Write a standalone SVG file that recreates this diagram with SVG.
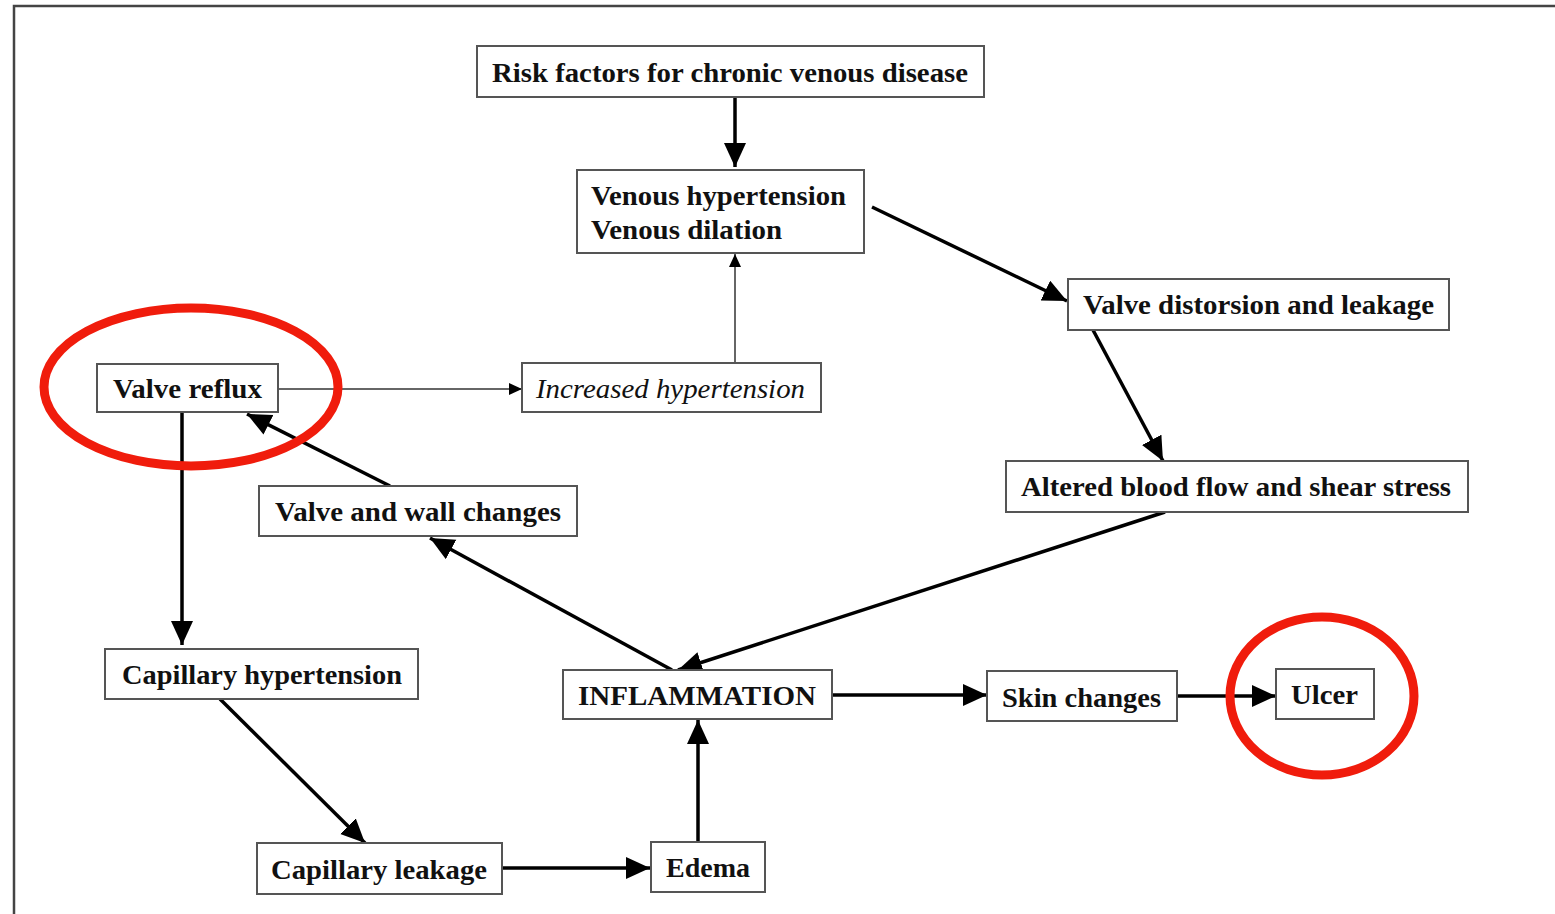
<svg xmlns="http://www.w3.org/2000/svg" width="1555" height="914" viewBox="0 0 1555 914">
<style>
.box{fill:#fff;stroke:#555;stroke-width:2}
.t{font-family:"Liberation Serif","Times New Roman",serif;font-weight:bold;font-size:28px;fill:#111}
.ti{font-family:"Liberation Serif","Times New Roman",serif;font-style:italic;font-size:28px;fill:#111}
.c{stroke:#000;stroke-width:3.5;fill:none}
.cn{stroke:#333;stroke-width:1.5;fill:none}
.ring{fill:none;stroke:#f01c0c;stroke-width:9}
</style>
<defs>
<marker id="ah" markerUnits="userSpaceOnUse" markerWidth="26" markerHeight="24" refX="24" refY="11" orient="auto">
<path d="M0,0 L24,11 L0,22 Z" fill="#000"/>
</marker>
<marker id="as" markerUnits="userSpaceOnUse" markerWidth="14" markerHeight="14" refX="13" refY="6" orient="auto">
<path d="M0,0 L13,6 L0,12 Z" fill="#000"/>
</marker>
</defs>
<rect width="1555" height="914" fill="#fff"/>
<path d="M14,914 L14,6 L1555,6" fill="none" stroke="#444" stroke-width="2.5"/>
<g id="connectors">
<line class="c" x1="735" y1="97" x2="735" y2="167" marker-end="url(#ah)"/>
<line class="c" x1="872" y1="207" x2="1067" y2="301" marker-end="url(#ah)"/>
<line class="c" x1="1093" y1="330" x2="1163" y2="461" marker-end="url(#ah)"/>
<line class="c" x1="1165" y1="512" x2="678" y2="670" marker-end="url(#ah)"/>
<line class="c" x1="672" y1="670" x2="430" y2="538" marker-end="url(#ah)"/>
<line class="c" x1="390" y1="486" x2="247" y2="414" marker-end="url(#ah)"/>
<line class="cn" x1="278" y1="389" x2="522" y2="389" marker-end="url(#as)"/>
<line class="cn" x1="735" y1="363" x2="735" y2="254" marker-end="url(#as)"/>
<line class="c" x1="182" y1="412" x2="182" y2="645" marker-end="url(#ah)"/>
<line class="c" x1="220" y1="699" x2="365" y2="843" marker-end="url(#ah)"/>
<line class="c" x1="502" y1="868" x2="650" y2="868" marker-end="url(#ah)"/>
<line class="c" x1="698" y1="842" x2="698" y2="720" marker-end="url(#ah)"/>
<line class="c" x1="832" y1="695" x2="987" y2="695" marker-end="url(#ah)"/>
<line class="c" x1="1177" y1="696" x2="1276" y2="696" marker-end="url(#ah)"/>
</g>
<g id="risk"><rect class="box" x="477" y="46" width="507" height="51"/><text class="t" x="492" y="82" textLength="476" lengthAdjust="spacingAndGlyphs">Risk factors for chronic venous disease</text></g>
<g id="venous"><rect class="box" x="577" y="170" width="287" height="83"/><text class="t" x="591" y="205" textLength="255" lengthAdjust="spacingAndGlyphs">Venous hypertension</text><text class="t" x="591" y="239" textLength="191" lengthAdjust="spacingAndGlyphs">Venous dilation</text></g>
<g id="distorsion"><rect class="box" x="1068" y="279" width="381" height="51"/><text class="t" x="1083" y="314" textLength="351" lengthAdjust="spacingAndGlyphs">Valve distorsion and leakage</text></g>
<g id="reflux"><rect class="box" x="97" y="364" width="181" height="48"/><text class="t" x="113" y="398" textLength="149" lengthAdjust="spacingAndGlyphs">Valve reflux</text></g>
<g id="increased"><rect class="box" x="522" y="363" width="299" height="49"/><text class="ti" x="536" y="398" textLength="269" lengthAdjust="spacingAndGlyphs">Increased hypertension</text></g>
<g id="altered"><rect class="box" x="1006" y="461" width="462" height="51"/><text class="t" x="1021" y="496" textLength="430" lengthAdjust="spacingAndGlyphs">Altered blood flow and shear stress</text></g>
<g id="wall"><rect class="box" x="259" y="486" width="318" height="50"/><text class="t" x="275" y="521" textLength="286" lengthAdjust="spacingAndGlyphs">Valve and wall changes</text></g>
<g id="caphyp"><rect class="box" x="105" y="649" width="313" height="50"/><text class="t" x="122" y="684" textLength="280" lengthAdjust="spacingAndGlyphs">Capillary hypertension</text></g>
<g id="inflammation"><rect class="box" x="563" y="670" width="269" height="49"/><text class="t" x="578" y="705" textLength="238" lengthAdjust="spacingAndGlyphs">INFLAMMATION</text></g>
<g id="skin"><rect class="box" x="987" y="671" width="190" height="50"/><text class="t" x="1002" y="707" textLength="159" lengthAdjust="spacingAndGlyphs">Skin changes</text></g>
<g id="ulcer"><rect class="box" x="1276" y="669" width="98" height="50"/><text class="t" x="1291" y="704" textLength="67" lengthAdjust="spacingAndGlyphs">Ulcer</text></g>
<g id="leakage"><rect class="box" x="257" y="843" width="245" height="51"/><text class="t" x="271" y="879" textLength="216" lengthAdjust="spacingAndGlyphs">Capillary leakage</text></g>
<g id="edema"><rect class="box" x="651" y="842" width="114" height="50"/><text class="t" x="666" y="877" textLength="84" lengthAdjust="spacingAndGlyphs">Edema</text></g>
<g id="highlights">
<ellipse class="ring" cx="191" cy="387" rx="147" ry="79"/>
<ellipse class="ring" cx="1322" cy="696" rx="92" ry="79"/>
</g>
</svg>
